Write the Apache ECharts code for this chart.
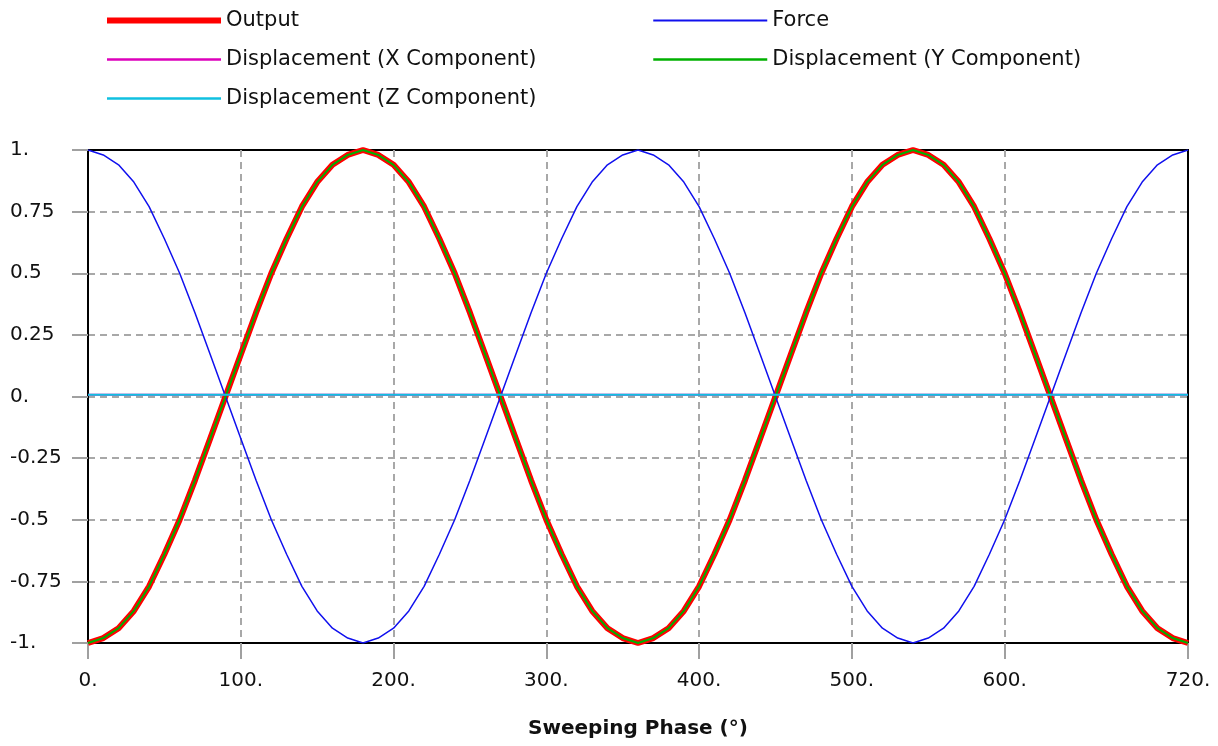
<!DOCTYPE html>
<html>
<head>
<meta charset="utf-8">
<title>Sweeping Phase</title>
<script src="https://cdn.jsdelivr.net/npm/echarts@6/dist/echarts.min.js"></script>
<style>
    html, body { margin: 0; padding: 0; background: #fff; }
    #chart { width: 1218px; height: 746px; }
</style>
</head>
<body>
<div id="chart"></div>
<script>
// sweeping phase (deg), one sample every 10 degrees
const phase = [
    0, 10, 20, 30, 40, 50, 60, 70, 80, 90, 100, 110, 120, 130, 140, 150, 160, 170, 180,
    190, 200, 210, 220, 230, 240, 250, 260, 270, 280, 290, 300, 310, 320, 330, 340, 350, 360,
    370, 380, 390, 400, 410, 420, 430, 440, 450, 460, 470, 480, 490, 500, 510, 520, 530, 540,
    550, 560, 570, 580, 590, 600, 610, 620, 630, 640, 650, 660, 670, 680, 690, 700, 710, 720
]
// values
const output = [
    -1, -0.98, -0.94, -0.87, -0.77, -0.64, -0.5, -0.34, -0.17, 0, 0.17, 0.34, 0.5, 0.64, 0.77, 0.87, 0.94, 0.98, 1,
    0.98, 0.94, 0.87, 0.77, 0.64, 0.5, 0.34, 0.17, 0, -0.17, -0.34, -0.5, -0.64, -0.77, -0.87, -0.94, -0.98, -1,
    -0.98, -0.94, -0.87, -0.77, -0.64, -0.5, -0.34, -0.17, 0, 0.17, 0.34, 0.5, 0.64, 0.77, 0.87, 0.94, 0.98, 1,
    0.98, 0.94, 0.87, 0.77, 0.64, 0.5, 0.34, 0.17, 0, -0.17, -0.34, -0.5, -0.64, -0.77, -0.87, -0.94, -0.98, -1
]
const force = [
    1, 0.98, 0.94, 0.87, 0.77, 0.64, 0.5, 0.34, 0.17, 0, -0.17, -0.34, -0.5, -0.64, -0.77, -0.87, -0.94, -0.98, -1,
    -0.98, -0.94, -0.87, -0.77, -0.64, -0.5, -0.34, -0.17, 0, 0.17, 0.34, 0.5, 0.64, 0.77, 0.87, 0.94, 0.98, 1,
    0.98, 0.94, 0.87, 0.77, 0.64, 0.5, 0.34, 0.17, 0, -0.17, -0.34, -0.5, -0.64, -0.77, -0.87, -0.94, -0.98, -1,
    -0.98, -0.94, -0.87, -0.77, -0.64, -0.5, -0.34, -0.17, 0, 0.17, 0.34, 0.5, 0.64, 0.77, 0.87, 0.94, 0.98, 1
]
// X component is flat and hidden under the Z line
const dispX = [
    0.007, 0.007, 0.007, 0.007, 0.007, 0.007, 0.007, 0.007, 0.007, 0.007, 0.007, 0.007, 0.007, 0.007, 0.007, 0.007, 0.007, 0.007, 0.007,
    0.007, 0.007, 0.007, 0.007, 0.007, 0.007, 0.007, 0.007, 0.007, 0.007, 0.007, 0.007, 0.007, 0.007, 0.007, 0.007, 0.007, 0.007,
    0.007, 0.007, 0.007, 0.007, 0.007, 0.007, 0.007, 0.007, 0.007, 0.007, 0.007, 0.007, 0.007, 0.007, 0.007, 0.007, 0.007, 0.007,
    0.007, 0.007, 0.007, 0.007, 0.007, 0.007, 0.007, 0.007, 0.007, 0.007, 0.007, 0.007, 0.007, 0.007, 0.007, 0.007, 0.007, 0.007
]
// Y component sits right on top of the output curve
const dispY = [
    -1, -0.98, -0.94, -0.87, -0.77, -0.64, -0.5, -0.34, -0.17, 0, 0.17, 0.34, 0.5, 0.64, 0.77, 0.87, 0.94, 0.98, 1,
    0.98, 0.94, 0.87, 0.77, 0.64, 0.5, 0.34, 0.17, 0, -0.17, -0.34, -0.5, -0.64, -0.77, -0.87, -0.94, -0.98, -1,
    -0.98, -0.94, -0.87, -0.77, -0.64, -0.5, -0.34, -0.17, 0, 0.17, 0.34, 0.5, 0.64, 0.77, 0.87, 0.94, 0.98, 1,
    0.98, 0.94, 0.87, 0.77, 0.64, 0.5, 0.34, 0.17, 0, -0.17, -0.34, -0.5, -0.64, -0.77, -0.87, -0.94, -0.98, -1
]
// Z component: flat, a hair above zero
const dispZ = [
    0.007, 0.007, 0.007, 0.007, 0.007, 0.007, 0.007, 0.007, 0.007, 0.007, 0.007, 0.007, 0.007, 0.007, 0.007, 0.007, 0.007, 0.007, 0.007,
    0.007, 0.007, 0.007, 0.007, 0.007, 0.007, 0.007, 0.007, 0.007, 0.007, 0.007, 0.007, 0.007, 0.007, 0.007, 0.007, 0.007, 0.007,
    0.007, 0.007, 0.007, 0.007, 0.007, 0.007, 0.007, 0.007, 0.007, 0.007, 0.007, 0.007, 0.007, 0.007, 0.007, 0.007, 0.007, 0.007,
    0.007, 0.007, 0.007, 0.007, 0.007, 0.007, 0.007, 0.007, 0.007, 0.007, 0.007, 0.007, 0.007, 0.007, 0.007, 0.007, 0.007, 0.007
]
const xTicks = [0, 100, 200, 300, 400, 500, 600, 720]
const xTickLabels = ['0.', '100.', '200.', '300.', '400.', '500.', '600.', '720.']
const yTicks = [1, 0.75, 0.5, 0.25, 0, -0.25, -0.5, -0.75, -1]
const yTickLabels = ['1.', '0.75', '0.5', '0.25', '0.', '-0.25', '-0.5', '-0.75', '-1.']

const font = 'DejaVu Sans'
const textColor = '#111'
const tickStyle = { color: '#a0a0a0', width: 2 }
const gridLine = { show: true, showMinLine: false, showMaxLine: false, lineStyle: { color: '#a8a8a8', type: [7, 5], width: 2 } }

const pairs = ys => phase.map((p, i) => [p, ys[i]])
const lineSeries = (name, ys, color, width) => ({
    name,
    type: 'line',
    data: pairs(ys),
    symbol: 'none',
    color,
    lineStyle: { color, width },
    animation: false
})
const legendBox = (left, items) => ({
    left,
    top: 5,
    orient: 'vertical',
    itemWidth: 114,
    itemHeight: 14,
    itemGap: 18,
    itemStyle: { opacity: 0 }, // line only, no marker dot
    textStyle: { fontFamily: font, fontSize: 21, color: textColor },
    data: items
})

const chart = echarts.init(document.getElementById('chart'))
chart.setOption({
    backgroundColor: '#fff',
    textStyle: { fontFamily: font, color: textColor },
    legend: [
        legendBox(99, [
            { name: 'Output', lineStyle: { width: 6 } },
            { name: 'Displacement (X Component)', lineStyle: { width: 2.5 } },
            { name: 'Displacement (Z Component)', lineStyle: { width: 2.5 } }
        ]),
        legendBox(647, [
            { name: 'Force', lineStyle: { width: 2 } },
            { name: 'Displacement (Y Component)', lineStyle: { width: 2.5 } }
        ])
    ],
    grid: {
        left: 88,
        right: 30,
        top: 150,
        bottom: 103,
        show: true,
        borderColor: '#000',
        borderWidth: 2,
        containLabel: false
    },
    xAxis: {
        type: 'value',
        min: 0,
        max: 720,
        name: 'Sweeping Phase (°)',
        nameLocation: 'middle',
        nameGap: 76,
        nameTextStyle: { fontFamily: font, fontSize: 20, fontWeight: 'bold', color: textColor },
        axisLine: { onZero: false, lineStyle: { color: '#000', width: 2 } },
        axisTick: { show: true, length: 16, lineStyle: tickStyle, customValues: xTicks },
        axisLabel: {
            margin: 28,
            fontSize: 20,
            color: textColor,
            customValues: xTicks,
            formatter: v => xTickLabels[xTicks.indexOf(v)]
        },
        splitLine: gridLine
    },
    yAxis: {
        type: 'value',
        min: -1,
        max: 1,
        interval: 0.25,
        axisLine: { show: true, onZero: false, lineStyle: { color: '#000', width: 2 } },
        axisTick: { show: true, length: 16, lineStyle: tickStyle },
        axisLabel: {
            margin: 78,
            align: 'left',
            fontSize: 20,
            color: textColor,
            formatter: v => yTickLabels[yTicks.indexOf(v)]
        },
        splitLine: gridLine
    },
    series: [
        lineSeries('Output', output, '#ff0000', 6),
        lineSeries('Force', force, '#1010ee', 1.5),
        lineSeries('Displacement (X Component)', dispX, '#dd00bb', 2),
        lineSeries('Displacement (Y Component)', dispY, '#00b000', 2),
        lineSeries('Displacement (Z Component)', dispZ, '#10c0e0', 2)
    ]
})
</script>
</body>
</html>
